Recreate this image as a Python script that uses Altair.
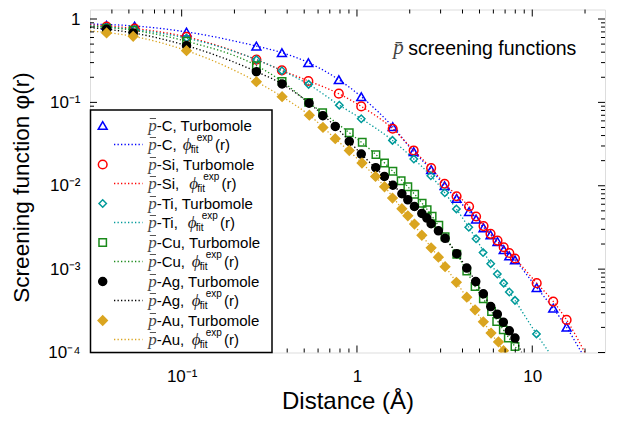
import altair as alt
import pandas as pd

# ---------------- data ----------------
elements = ["C", "Si", "Ti", "Cu", "Ag", "Au"]
colors = ["#0000ff", "#ff0000", "#009a9a", "#1a8a1a", "#000000", "#daa520"]
shapes = ["triangle-up", "circle", "diamond", "square", "circle", "diamond"]
fills = ["transparent", "transparent", "transparent", "transparent", "#000000", "#daa520"]
sizes = [80, 75, 55, 55, 64, 85]

C_r = [0.0373, 0.0539, 0.1066, 0.2669, 0.373, 0.528, 0.788, 1.058, 1.599, 2.106, 2.649, 3.162,
       3.701, 4.360, 4.780, 5.274, 5.781, 6.335, 6.873, 7.396, 7.970, 10.60, 13.17, 15.70]
C_phi = [0.84, 0.822, 0.696, 0.473, 0.395, 0.2996, 0.187, 0.117, 0.0511, 0.0256, 0.01556, 0.0100,
         0.00704, 0.00491, 0.00398, 0.00313, 0.00258, 0.00214, 0.00171, 0.00144, 0.00129,
         0.000601, 0.000340, 0.000201]
Si_r = C_r
Si_phi = [0.811, 0.767, 0.610, 0.3255, 0.242, 0.1806, 0.1272, 0.0895, 0.0483, 0.0265, 0.0163,
          0.01057, 0.00748, 0.00564, 0.00428, 0.00328, 0.00265, 0.00220, 0.00183, 0.00156,
          0.00134, 0.000679, 0.000408, 0.000246]
Ti_r = [0.0373, 0.0539, 0.1066, 0.2669, 0.373, 0.530, 0.793, 1.058, 1.595, 2.111, 2.639, 3.170,
        3.691, 4.343, 4.780, 5.240, 5.796, 6.319, 6.873, 7.396, 7.970, 10.57]
Ti_phi = [0.788, 0.746, 0.590, 0.3255, 0.240, 0.1644, 0.0926, 0.0637, 0.0350, 0.0209, 0.01318,
          0.00824, 0.00527, 0.00318, 0.00231, 0.00158, 0.00116, 0.000873, 0.000679, 0.000531,
          0.000422, 0.000167]
Cu_r = [0.0373, 0.0529, 0.1066, 0.2669, 0.374, 0.530, 0.637, 0.904, 1.072, 1.283, 1.436, 1.603,
        1.787, 1.951, 2.134, 2.354, 2.514, 2.684, 2.931, 3.183, 3.711, 4.231, 4.718, 5.260,
        5.858, 6.270, 6.838, 7.300, 7.970]
Cu_phi = [0.778, 0.732, 0.540, 0.276, 0.1787, 0.100, 0.0752, 0.0433, 0.0333, 0.0236, 0.01873,
          0.01493, 0.01148, 0.00973, 0.00791, 0.00617, 0.00515, 0.00430, 0.00336, 0.00244,
          0.00151, 0.000946, 0.000618, 0.000440, 0.000310, 0.000235, 0.000187, 0.000149,
          0.000118]
Ag_r = [0.0373, 0.0529, 0.1066, 0.2669, 0.374, 0.533, 0.639, 0.752, 0.904, 1.058, 1.280, 1.434,
        1.603, 1.804, 1.951, 2.128, 2.345, 2.504, 2.649, 2.915, 3.183, 3.711, 4.231, 4.761,
        5.260, 5.796, 6.319, 6.838, 7.396, 7.970]
Ag_phi = [0.756, 0.681, 0.479, 0.2336, 0.1663, 0.0978, 0.0692, 0.0515, 0.0340, 0.0240, 0.01645,
          0.01293, 0.01014, 0.00802, 0.00679, 0.00564, 0.00465, 0.00409, 0.00350, 0.00288,
          0.00234, 0.00153, 0.00103, 0.000710, 0.000505, 0.000356, 0.000288, 0.000231,
          0.000182, 0.000149]
Au_r = [0.0373, 0.0529, 0.1066, 0.2669, 0.374, 0.535, 0.640, 0.752, 0.904, 1.068, 1.276, 1.436,
        1.595, 1.804, 1.951, 2.128, 2.345, 2.649, 2.915, 3.183, 3.691, 4.231, 4.718, 5.260,
        5.819, 6.419, 6.855]
Au_phi = [0.681, 0.620, 0.4175, 0.1772, 0.117, 0.0702, 0.0501, 0.0367, 0.0265, 0.01873, 0.01293,
          0.00973, 0.00712, 0.00530, 0.00436, 0.00347, 0.00255, 0.00180, 0.00139, 0.00107,
          0.000695, 0.000461, 0.000325, 0.000233, 0.000171, 0.000134, 0.000105]

# fitted curves
C_fit_r = [0.03, 0.0539, 0.1066, 0.2669, 0.373, 0.528, 0.788, 1.058, 1.599, 2.106, 2.649, 3.162,
           4.36, 5.78, 7.97, 10.6, 13.17, 15.7, 19.1]
C_fit_phi = [0.87, 0.825, 0.70, 0.473, 0.395, 0.30, 0.187, 0.117, 0.0511, 0.0256, 0.0156, 0.0100,
             0.0049, 0.00258, 0.00129, 0.00060, 0.00034, 0.00020, 0.0001]
Si_fit_r = [0.03, 0.0539, 0.1066, 0.2669, 0.373, 0.528, 0.788, 1.058, 1.599, 2.106, 2.649, 3.162,
            4.36, 5.78, 7.97, 10.6, 13.17, 15.7, 19.95]
Si_fit_phi = [0.85, 0.77, 0.61, 0.3255, 0.242, 0.181, 0.127, 0.0895, 0.0483, 0.0265, 0.0163,
              0.01057, 0.00564, 0.00265, 0.00134, 0.00068, 0.00041, 0.000246, 0.0001]
Ti_fit_r = [0.03, 0.0539, 0.1066, 0.2669, 0.373, 0.53, 0.793, 1.058, 1.595, 2.111, 2.639, 3.17,
            3.691, 4.78, 5.796, 6.873, 7.97, 10.57, 12.5]
Ti_fit_phi = [0.83, 0.746, 0.59, 0.3255, 0.24, 0.1644, 0.0926, 0.0637, 0.035, 0.0209, 0.0132,
              0.00824, 0.00527, 0.00231, 0.00116, 0.000679, 0.000422, 0.000167, 0.0001]
Cu_fit_r = [0.03, 0.0529, 0.1066, 0.2669, 0.374, 0.53, 0.637, 0.904, 1.283, 1.603, 1.951, 2.354,
            2.684, 3.183, 3.711, 4.231, 4.718, 5.26, 5.858, 6.838, 7.97, 8.45]
Cu_fit_phi = [0.82, 0.732, 0.54, 0.276, 0.1787, 0.100, 0.0752, 0.0433, 0.0236, 0.0149, 0.00973,
              0.00617, 0.0043, 0.00244, 0.00151, 0.000946, 0.000618, 0.00044, 0.00031, 0.000187,
              0.000118, 0.0001]
Ag_fit_r = [0.03, 0.0529, 0.1066, 0.2669, 0.374, 0.533, 0.752, 1.058, 1.434, 1.804, 2.128, 2.504,
            3.183, 3.711, 4.231, 4.761, 5.26, 5.796, 6.838, 7.97, 8.7]
Ag_fit_phi = [0.79, 0.681, 0.479, 0.2336, 0.1663, 0.0978, 0.0515, 0.024, 0.01293, 0.00802,
              0.00564, 0.00409, 0.00234, 0.00153, 0.00103, 0.00071, 0.000505, 0.000356, 0.000231,
              0.000149, 0.0001]
Au_fit_r = [0.03, 0.0529, 0.1066, 0.2669, 0.374, 0.535, 0.752, 1.068, 1.436, 1.804, 2.345, 2.915,
            3.691, 4.718, 5.819, 6.95]
Au_fit_phi = [0.72, 0.62, 0.4175, 0.1772, 0.117, 0.0702, 0.0367, 0.0187, 0.00973, 0.0053, 0.00255,
              0.00139, 0.000695, 0.000325, 0.000171, 0.0001]

R = {"C": C_r, "Si": Si_r, "Ti": Ti_r, "Cu": Cu_r, "Ag": Ag_r, "Au": Au_r}
P = {"C": C_phi, "Si": Si_phi, "Ti": Ti_phi, "Cu": Cu_phi, "Ag": Ag_phi, "Au": Au_phi}
FR = {"C": C_fit_r, "Si": Si_fit_r, "Ti": Ti_fit_r, "Cu": Cu_fit_r, "Ag": Ag_fit_r, "Au": Au_fit_r}
FP = {"C": C_fit_phi, "Si": Si_fit_phi, "Ti": Ti_fit_phi, "Cu": Cu_fit_phi, "Ag": Ag_fit_phi,
      "Au": Au_fit_phi}

x_tick_vals = [0.1, 1, 10]
x_tick_labels = ["10⁻¹", "1", "10"]
y_tick_vals = [0.0001, 0.001, 0.01, 0.1, 1]
y_tick_labels = ["10⁻⁴", "10⁻³", "10⁻²", "10⁻¹", "1"]
x_minor = [0.04, 0.05, 0.06, 0.07, 0.08, 0.09, 0.2, 0.3, 0.4, 0.5, 0.6, 0.7, 0.8, 0.9,
           2, 3, 4, 5, 6, 7, 8, 9, 20]
y_minor = [k * d for d in [0.0001, 0.001, 0.01, 0.1] for k in range(2, 10)]

# legend phi offsets (layout, measured)
phi_dx = {"C": 92.7, "Si": 99.3, "Ti": 97.7, "Cu": 101.7, "Ag": 101.7, "Au": 101.7}

# ---------------- chart ----------------
W, H = 515, 343
FONT = "Liberation Sans"
xs = alt.Scale(type="log", domain=[0.03, 26], nice=False)
ys = alt.Scale(type="log", domain=[0.0001, 1.3], nice=False)


def label_expr(vals, labels):
    expr = "''"
    for v, l in zip(vals, labels):
        expr = f"abs(datum.value - {v}) < {v * 0.01} ? '{l}' : " + expr
    return expr


xaxis = alt.Axis(values=x_tick_vals, labelExpr=label_expr(x_tick_vals, x_tick_labels),
                 ticks=False, domain=False, grid=False, labelPadding=15.5, labelFontSize=17,
                 labelFont=FONT, labelColor="black", title=None, labelFlush=False)
yaxis = alt.Axis(values=y_tick_vals, labelExpr=label_expr(y_tick_vals, y_tick_labels),
                 ticks=False, domain=False, grid=False, labelPadding=10, labelFontSize=17,
                 labelFont=FONT, labelColor="black", title=None, labelFlush=False)

X = lambda: alt.X("r:Q", scale=xs, axis=xaxis)
Y = lambda: alt.Y("phi:Q", scale=ys, axis=yaxis)

layers = []
for i, e in enumerate(elements):
    pdf = pd.DataFrame({"r": R[e], "phi": P[e]})
    layers.append(
        alt.Chart(pdf).mark_point(shape=shapes[i], size=sizes[i], stroke=colors[i], fill=fills[i],
                                  strokeWidth=1.5, opacity=1, fillOpacity=1, clip=True)
        .encode(x=X(), y=Y())
    )
    fdf = pd.DataFrame({"r": FR[e], "phi": FP[e]})
    layers.append(
        alt.Chart(fdf).mark_line(color=colors[i], strokeWidth=1.3, strokeDash=[1.3, 2.2],
                                 interpolate="monotone", clip=True)
        .encode(x=X(), y=Y(), order="r:Q")
    )

# inward ticks on all four sides
def xt(vals, y0, y1):
    return alt.Chart(pd.DataFrame({"r": vals})).mark_rule(color="black", strokeWidth=1).encode(
        x=X(), y=alt.value(y0), y2=alt.value(y1))


def yt(vals, x0, x1):
    return alt.Chart(pd.DataFrame({"phi": vals})).mark_rule(color="black", strokeWidth=1).encode(
        y=Y(), x=alt.value(x0), x2=alt.value(x1))


layers += [xt(x_tick_vals, H, H - 7), xt(x_minor, H, H - 4), xt(x_tick_vals, 0, 7), xt(x_minor, 0, 4),
           yt(y_tick_vals, 0, 7), yt(y_minor, 0, 4), yt(y_tick_vals, W, W - 7), yt(y_minor, W, W - 4)]

# legend box
layers.append(
    alt.Chart(pd.DataFrame({"a": [0]})).mark_rect(fill="white", stroke="black", strokeWidth=1.5)
    .encode(x=alt.value(0.5), x2=alt.value(182), y=alt.value(100.5), y2=alt.value(H))
)

rows = []
for i, e in enumerate(elements):
    rows.append(dict(row=2 * i, kind="pts", el=e, label=f"-{e}, Turbomole", phx=0))
    rows.append(dict(row=2 * i + 1, kind="fit", el=e, label=f"-{e}, ", phx=phi_dx[e]))
leg = pd.DataFrame(rows)
base = alt.Chart(leg).transform_calculate(ly="round(115.5 + 19.5 * datum.row)")
LY = alt.Y("ly:Q", scale=None, axis=None)

for i, e in enumerate(elements):
    layers.append(
        base.transform_filter(f"datum.kind == 'pts' && datum.el == '{e}'")
        .mark_point(shape=shapes[i], size=sizes[i], stroke=colors[i], fill=fills[i],
                    strokeWidth=1.5, opacity=1, fillOpacity=1)
        .encode(x=alt.value(12.7), y=LY)
    )
    layers.append(
        base.transform_filter(f"datum.kind == 'fit' && datum.el == '{e}'")
        .mark_rule(color=colors[i], strokeWidth=1.3, strokeDash=[1.3, 2.2])
        .encode(x=alt.value(24), x2=alt.value(52.5), y=LY)
    )

layers.append(base.mark_text(text="p", font="Liberation Serif", fontStyle="italic", fontSize=17,
                             color="#444", align="left", baseline="middle")
              .encode(x=alt.value(58.3), y=LY))
layers.append(base.transform_calculate(by="datum.ly - 7")
              .mark_rule(color="#555", strokeWidth=1)
              .encode(x=alt.value(59.8), x2=alt.value(66), y=alt.Y("by:Q", scale=None, axis=None)))
layers.append(base.mark_text(font=FONT, fontSize=15, color="black", align="left", baseline="middle")
              .encode(x=alt.value(66.7), y=LY, text="label:N"))
fit = base.transform_filter("datum.kind == 'fit'")
layers.append(fit.mark_text(text="ϕ", font="Liberation Serif", fontStyle="italic", fontSize=17,
                            color="#222", align="left", baseline="middle")
              .encode(x=alt.X("phx:Q", scale=None, axis=None), y=LY))
layers.append(fit.transform_calculate(fx="datum.phx + 8", fy="datum.ly + 5")
              .mark_text(text="fit", font=FONT, fontSize=10, color="black", align="left",
                         baseline="middle")
              .encode(x=alt.X("fx:Q", scale=None, axis=None), y=alt.Y("fy:Q", scale=None, axis=None)))
layers.append(fit.transform_calculate(fx="datum.phx + 14", fy="datum.ly - 7")
              .mark_text(text="exp", font=FONT, fontSize=10, color="black", align="left",
                         baseline="middle")
              .encode(x=alt.X("fx:Q", scale=None, axis=None), y=alt.Y("fy:Q", scale=None, axis=None)))
layers.append(fit.transform_calculate(fx="datum.phx + 32.3")
              .mark_text(text="(r)", font=FONT, fontSize=15, color="black", align="left",
                         baseline="middle")
              .encode(x=alt.X("fx:Q", scale=None, axis=None), y=LY))

# annotation and axis titles
one = pd.DataFrame({"a": [0]})
layers.append(alt.Chart(one).mark_text(text="p̄", font="Liberation Serif", fontStyle="italic",
                                       fontSize=21, color="#444", align="left", baseline="middle")
              .encode(x=alt.value(303.3), y=alt.value(38.8)))
layers.append(alt.Chart(one).mark_text(text="screening functions", font=FONT, fontSize=19.5,
                                       color="black", align="left", baseline="middle")
              .encode(x=alt.value(318.3), y=alt.value(39.5)))
layers.append(alt.Chart(one).mark_text(text="Distance (Å)", font=FONT, fontSize=24, color="black",
                                       align="center", baseline="middle")
              .encode(x=alt.value(258), y=alt.value(392)))
layers.append(alt.Chart(one).mark_text(text="Screening function φ(r)", font=FONT, fontSize=22.6,
                                       color="black", align="center", baseline="middle", angle=270)
              .encode(x=alt.value(-68), y=alt.value(178)))

chart = alt.layer(*layers).properties(
    width=W, height=H,
    autosize=alt.AutoSizeParams(type="none"),
    padding={"left": 90, "top": 9.5, "right": 15, "bottom": 74.5},
).configure_view(stroke="black", strokeWidth=1.6).configure(font=FONT)

chart.save("out.html", embed_options={"renderer": "svg", "actions": False})
